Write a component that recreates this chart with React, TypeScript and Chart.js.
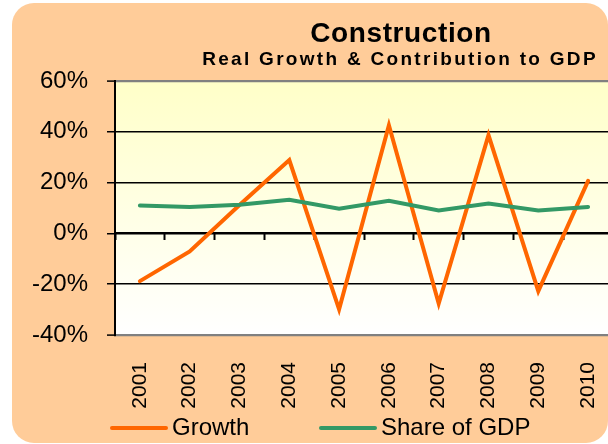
import React, { useEffect, useRef } from 'react';
import { Chart, registerables } from 'chart.js';

Chart.register(...registerables);

const years = ['2001', '2002', '2003', '2004', '2005', '2006', '2007', '2008', '2009', '2010'];
const growth = [-18.8, -7.1, 11.2, 28.9, -29.9, 42.6, -27.6, 38.7, -22.7, 20.7];
const shareOfGdp = [11.0, 10.4, 11.3, 13.2, 9.7, 12.8, 9.0, 11.8, 9.0, 10.4];
const yMin = -40;
const yMax = 60;
const yStep = 20;
const titleText = 'Construction';
const subtitleText = 'Real Growth & Contribution to GDP';
const seriesNames = ['Growth', 'Share of GDP'];
const seriesColors = ['#FF6600', '#339966'];

const FONT = '"Liberation Sans", Arial, Helvetica, sans-serif';

const decor = {
  id: 'decor',
  beforeDraw(chart: any) {
    const { ctx, chartArea: a } = chart;
    ctx.save();
    ctx.fillStyle = '#FFFFFF';
    ctx.fillRect(0, 0, chart.width, chart.height);
    ctx.fillStyle = '#FFCC99';
    ctx.beginPath();
    ctx.roundRect(12, 3, 596, 440, 22);
    ctx.fill();
    const g = ctx.createLinearGradient(0, a.top, 0, a.bottom);
    g.addColorStop(0, '#FFFFC8');
    g.addColorStop(1, '#FFFFFF');
    ctx.fillStyle = g;
    ctx.fillRect(a.left, a.top, a.right - a.left, a.bottom - a.top);
    ctx.restore();
  },
  afterDraw(chart: any) {
    const { ctx } = chart;
    ctx.save();
    ctx.fillStyle = '#000000';
    ctx.textAlign = 'center';
    ctx.textBaseline = 'alphabetic';
    ctx.font = `bold 28px ${FONT}`;
    (ctx as any).letterSpacing = '0.6px';
    ctx.fillText(titleText, 401, 42);
    ctx.font = `bold 19px ${FONT}`;
    (ctx as any).letterSpacing = '2.3px';
    ctx.fillText(subtitleText, 400, 65);
    (ctx as any).letterSpacing = '0px';
    // legend
    const starts = [112, 321];
    chart.data.datasets.forEach((ds: any, i: number) => {
      const x0 = starts[i];
      const y = 428;
      ctx.strokeStyle = ds.borderColor;
      ctx.lineWidth = 4;
      ctx.lineCap = 'round';
      ctx.beginPath();
      ctx.moveTo(x0, y);
      ctx.lineTo(x0 + 54, y);
      ctx.stroke();
      ctx.fillStyle = '#000000';
      ctx.font = `24px ${FONT}`;
      ctx.textAlign = 'left';
      ctx.textBaseline = 'middle';
      ctx.fillText(ds.label, x0 + 60, y);
    });
    ctx.restore();
  },
};

export default function App() {
  const ref = useRef<HTMLCanvasElement | null>(null);
  useEffect(() => {
    if (!ref.current) return;
    const chart = new Chart(ref.current, {
      type: 'line',
      data: {
        labels: years,
        datasets: [
          {
            label: seriesNames[0],
            data: growth,
            borderColor: seriesColors[0],
            backgroundColor: seriesColors[0],
            borderWidth: 4,
            order: 1,
            xAxisID: 'x',
            yAxisID: 'y',
          },
          {
            label: seriesNames[1],
            data: shareOfGdp,
            borderColor: seriesColors[1],
            backgroundColor: seriesColors[1],
            borderWidth: 4,
            order: 0,
            xAxisID: 'x',
            yAxisID: 'y',
          },
        ],
      },
      options: {
        responsive: false,
        animation: false,
        devicePixelRatio: 1,
        layout: { padding: { top: 81, left: 0, right: 0, bottom: 0 } },
        plugins: {
          legend: { display: false },
          title: { display: false },
          tooltip: { enabled: false },
        },
        elements: {
          line: { tension: 0, borderCapStyle: 'round', borderJoinStyle: 'miter' },
          point: { radius: 0, hoverRadius: 0 },
        },
        scales: {
          x: {
            type: 'category',
            offset: true,
            grid: { display: false, drawTicks: true, tickLength: 27 },
            border: { display: false },
            ticks: {
              autoSkip: false,
              maxRotation: 90,
              minRotation: 90,
              padding: 0,
              color: '#000000',
              font: { family: FONT, size: 21 },
            },
            afterFit: (s: any) => {
              s.height = 109;
              s.paddingRight = 0;
              s.paddingLeft = 0;
            },
          },
          x0: {
            type: 'category',
            position: { y: 0 },
            offset: true,
            grid: {
              offset: true,
              drawOnChartArea: false,
              drawTicks: true,
              tickLength: 6,
              tickWidth: 2,
              tickColor: '#000000',
            },
            border: { display: true, color: '#000000', width: 2 },
            ticks: { display: false },
          },
          y: {
            type: 'linear',
            min: yMin,
            max: yMax,
            ticks: {
              stepSize: yStep,
              padding: 19,
              color: '#000000',
              font: { family: FONT, size: 24 },
              callback: (v: any) => `${v}%`,
            },
            grid: {
              color: (c: any) => (c.tick && (c.tick.value === yMax || c.tick.value === yMin) ? '#808080' : '#000000'),
              lineWidth: (c: any) => (c.tick && (c.tick.value === yMax || c.tick.value === yMin) ? 2.2 : 1.5),
              drawTicks: true,
              tickLength: 8,
              tickWidth: 1.5,
              tickColor: '#000000',
            },
            border: { display: true, color: '#000000', width: 2 },
            afterFit: (s: any) => {
              s.width = 115;
            },
          },
        },
      } as any,
      plugins: [decor],
    });
    return () => chart.destroy();
  }, []);
  return (
    <div
      style={{
        position: 'absolute',
        left: 0,
        top: 0,
        width: 608,
        height: 444,
        overflow: 'hidden',
        background: '#FFFFFF',
      }}
    >
      <canvas ref={ref} width={613} height={444} style={{ display: 'block' }} />
    </div>
  );
}
